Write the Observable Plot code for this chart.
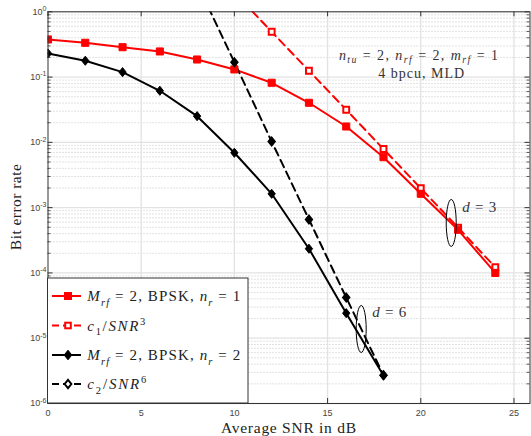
<!DOCTYPE html>
<html><head><meta charset="utf-8">
<script src="https://cdn.jsdelivr.net/npm/d3@7"></script>
<script src="https://cdn.jsdelivr.net/npm/@observablehq/plot@0.6"></script>
<style>html,body{margin:0;padding:0;background:#fff} svg{display:block}</style>
</head><body><div id="chart"></div>
<script>
// ---- data ----
const snrNr1 = [0,2,4,6,8,10,12,14,16,18,20,22,24];
const berNr1 = [0.377,0.335,0.287,0.247,0.186,0.131,0.0818,0.0404,0.0175,0.00593,0.00163,0.000458,0.000100];
const snrC1 = [10,12,14,16,18,20,22,24];
const berC1 = [1.98,0.494,0.125,0.0316,0.0079,0.00198,0.000495,0.000122];
const snrNr2 = [0,2,4,6,8,10,12,14,16,18];
const berNr2 = [0.23,0.178,0.119,0.0617,0.0252,0.00693,0.00163,0.000235,0.0000242,0.00000269];
const snrC2 = [8,10,12,14,16,18];
const berC2 = [2.7,0.169,0.0103,0.00066,0.000042,0.0000027];
const xTicks = [0,5,10,15,20,25];
const yTicks = [1e-6,1e-5,1e-4,1e-3,1e-2,1e-1,1];
const legendLabels = [
  [{t:"M",i:1},{t:"rf",i:1,sub:1},{t:" = 2, BPSK, "},{t:"n",i:1},{t:"r",i:1,sub:1},{t:" = 1"}],
  [{t:"c",i:1},{t:"1",sub:1},{t:"/"},{t:"SNR",i:1},{t:"3",sup:1}],
  [{t:"M",i:1},{t:"rf",i:1,sub:1},{t:" = 2, BPSK, "},{t:"n",i:1},{t:"r",i:1,sub:1},{t:" = 2"}],
  [{t:"c",i:1},{t:"2",sub:1},{t:"/"},{t:"SNR",i:1},{t:"6",sup:1}]
];
const infoLine1 = [{t:"n",i:1},{t:"tu",i:1,sub:1},{t:" = 2, "},{t:"n",i:1},{t:"rf",i:1,sub:1},{t:" = 2, "},{t:"m",i:1},{t:"rf",i:1,sub:1},{t:" = 1"}];
const infoLine2 = [{t:"4 bpcu, MLD"}];
const diversityLabels = [[{t:"d",i:1},{t:" = 3"}],[{t:"d",i:1},{t:" = 6"}]];
const diversityX = [21.66, 16.83];
const diversityY = [5.73e-4, 1.36e-5];
const xLabel = "Average SNR in dB";
const yLabel = "Bit error rate";

// ---- layout ----
const W = 531, H = 436;
const mL = 47.5, mR = 1.5, mT = 11.3, mB = 33;
const pW = W - mL - mR, pH = H - mT - mB;
const minorY = [];
for (let k = -6; k < 0; k++) for (let m = 2; m <= 9; m++) minorY.push(m * Math.pow(10, k));

const rows = (xs, ys) => xs.map((x, i) => ({x, y: ys[i]}));
const dNr1 = rows(snrNr1, berNr1), dC1 = rows(snrC1, berC1), dNr2 = rows(snrNr2, berNr2), dC2 = rows(snrC2, berC2);

const diamond = {
  draw(ctx, size) {
    const h = Math.sqrt(size / Math.PI) * 1.2, w = h * 0.8;
    ctx.moveTo(0, -h); ctx.lineTo(w, 0); ctx.lineTo(0, h); ctx.lineTo(-w, 0); ctx.closePath();
  }
};
const axisCol = "#333";

const plot = Plot.plot({
  width: W, height: H,
  marginLeft: mL, marginRight: mR, marginTop: mT, marginBottom: mB,
  style: {background: "white", fontFamily: "'Liberation Sans', Arial, sans-serif", fontSize: "9px", color: "#444"},
  x: {domain: [0, 25.86], label: null},
  y: {type: "log", domain: [1e-6, 1], label: null},
  marks: [
    Plot.ruleY(minorY, {stroke: "#b8b8b8", strokeWidth: 0.8, strokeDasharray: "1,2"}),
    Plot.ruleY(yTicks, {stroke: "#e2e2e2", strokeWidth: 1.3}),
    Plot.ruleX(xTicks.slice(1), {stroke: "#e2e2e2", strokeWidth: 1.3}),
    Plot.line(dNr1, {x: "x", y: "y", stroke: "red", strokeWidth: 2, clip: true}),
    Plot.line(dC1, {x: "x", y: "y", stroke: "red", strokeWidth: 2, strokeDasharray: "8,5", clip: true}),
    Plot.line(dNr2, {x: "x", y: "y", stroke: "black", strokeWidth: 2, clip: true}),
    Plot.line(dC2, {x: "x", y: "y", stroke: "black", strokeWidth: 2, strokeDasharray: "8,5", clip: true}),
    Plot.dot(dC1, {x: "x", y: "y", symbol: "square", r: 3.3, fill: "white", stroke: "red", strokeWidth: 2, clip: true}),
    Plot.dot(dNr1, {x: "x", y: "y", symbol: "square", r: 4, fill: "red", stroke: "red", strokeWidth: 1, clip: true}),
    Plot.dot(dC2, {x: "x", y: "y", symbol: diamond, r: 3.6, fill: "black", stroke: "black", strokeWidth: 1.5, clip: true}),
    Plot.dot(dNr2, {x: "x", y: "y", symbol: diamond, r: 3.8, fill: "black", stroke: "black", strokeWidth: 1, clip: true}),
    Plot.tickY(yTicks, {y: d => d, insetRight: pW - 5, stroke: axisCol}),
    Plot.tickY(yTicks, {y: d => d, insetLeft: pW - 5, stroke: axisCol}),
    Plot.tickY(minorY, {y: d => d, insetRight: pW - 3, stroke: axisCol, strokeWidth: 0.8}),
    Plot.tickY(minorY, {y: d => d, insetLeft: pW - 3, stroke: axisCol, strokeWidth: 0.8}),
    Plot.tickX(xTicks, {x: d => d, insetTop: pH - 5, stroke: axisCol}),
    Plot.tickX(xTicks, {x: d => d, insetBottom: pH - 5, stroke: axisCol}),
    Plot.frame({stroke: axisCol, strokeWidth: 1}),
    Plot.axisX({ticks: xTicks, tickSize: 0, tickPadding: 6, tickFormat: d => String(d), label: null}),
    Plot.axisY({ticks: yTicks, tickSize: 0, tickPadding: 1.5, tickFormat: d => "10^" + Math.round(Math.log10(d)), label: null})
  ]
});
document.getElementById("chart").appendChild(plot);

const svg = d3.select(plot);
const sx = plot.scale("x"), sy = plot.scale("y");

// superscript exponents on y tick labels
svg.selectAll('g[aria-label="y-axis tick label"] text').each(function() {
  const s = this.textContent;
  const parts = s.split("^");
  if (parts.length !== 2) return;
  const t = d3.select(this);
  t.text(null);
  t.append("tspan").text(parts[0]);
  t.append("tspan").attr("dy", "-0.5em").attr("font-size", "7px").text(parts[1]);
});

const serif = "'Liberation Serif', 'Times New Roman', serif";
function mathText(g, segs, x, y, size, opts = {}) {
  const t = g.append("text").attr("x", x).attr("y", y)
    .attr("font-family", serif).attr("font-size", size)
    .attr("fill", opts.fill || "#222")
    .attr("text-anchor", opts.anchor || "start");
  if (opts.len) t.attr("textLength", opts.len).attr("lengthAdjust", "spacing");
  let cur = 0;
  const subShift = opts.subShift != null ? opts.subShift : 0.3;
  segs.forEach(s => {
    const target = s.sub ? size * subShift : s.sup ? -size * 0.4 : 0;
    const ts = t.append("tspan").text(s.t);
    if (target !== cur) ts.attr("dy", target - cur);
    cur = target;
    if (s.i) ts.attr("font-style", "italic");
    if (s.sub || s.sup) ts.attr("font-size", size * 0.7);
  });
  return t;
}

const ann = svg.append("g");
// info text
mathText(ann, infoLine1, sx.apply(19.9), 59.5, 14, {anchor: "middle", fill: "#333", len: 159, subShift: 0.22});
mathText(ann, infoLine2, sx.apply(20.05), 77.5, 14, {anchor: "middle", fill: "#333", len: 86});

// diversity ellipses and labels
diversityX.forEach((dx, i) => {
  const cx = sx.apply(dx), cy = sy.apply(diversityY[i]);
  ann.append("ellipse").attr("cx", cx).attr("cy", cy).attr("rx", 5).attr("ry", 23.5)
    .attr("fill", "none").attr("stroke", "black").attr("stroke-width", 1);
  mathText(ann, diversityLabels[i], cx + 11, cy - 11 - (i ? 1 : 0), 15, {fill: "#333", len: 34});
});

// legend
const lg = svg.append("g");
const lx0 = mL, lx1 = 248, ly0 = 278, ly1 = mT + pH;
lg.append("rect").attr("x", lx0).attr("y", ly0).attr("width", lx1 - lx0).attr("height", ly1 - ly0)
  .attr("fill", "white").attr("stroke", axisCol).attr("stroke-width", 1);
const rowY = [296, 325.5, 355, 384];
const styles = [
  {c: "red", dash: null, sym: "sq", fill: "red"},
  {c: "red", dash: "8,5", sym: "sq", fill: "white"},
  {c: "black", dash: null, sym: "di", fill: "black"},
  {c: "black", dash: "8,5", sym: "di", fill: "white"}
];
const widths = [153, 58, 153, 59];
legendLabels.forEach((segs, i) => {
  const y = rowY[i], st = styles[i];
  lg.append("line").attr("x1", 52).attr("x2", 81).attr("y1", y).attr("y2", y)
    .attr("stroke", st.c).attr("stroke-width", 2).attr("stroke-dasharray", st.dash ? "7,4" : null);
  if (st.sym === "sq") {
    const s = st.fill === "red" ? 7 : 5.6;
    lg.append("rect").attr("x", 68 - s / 2).attr("y", y - s / 2).attr("width", s).attr("height", s)
      .attr("fill", st.fill).attr("stroke", "red").attr("stroke-width", st.fill === "red" ? 1 : 2);
  } else {
    const h = st.fill === "black" ? 4.8 : 4.2, w = h * 0.8;
    lg.append("path").attr("d", `M68,${y - h}L${68 + w},${y}L68,${y + h}L${68 - w},${y}Z`)
      .attr("fill", st.fill).attr("stroke", "black").attr("stroke-width", st.fill === "black" ? 1 : 2);
  }
  mathText(lg, segs, 87.3, y + 5, 15, {len: widths[i]});
});

// axis titles
svg.append("text").attr("x", mL + pW / 2).attr("y", 432.5).attr("text-anchor", "middle")
  .attr("font-family", serif).attr("font-size", 15.5).attr("fill", "#222")
  .attr("textLength", 135).attr("lengthAdjust", "spacing").text(xLabel);
svg.append("text").attr("transform", `translate(20.5,${mT + pH / 2}) rotate(-90)`).attr("text-anchor", "middle")
  .attr("font-family", serif).attr("font-size", 15.5).attr("fill", "#222")
  .attr("textLength", 86).attr("lengthAdjust", "spacing").text(yLabel);
</script>
</body></html>
